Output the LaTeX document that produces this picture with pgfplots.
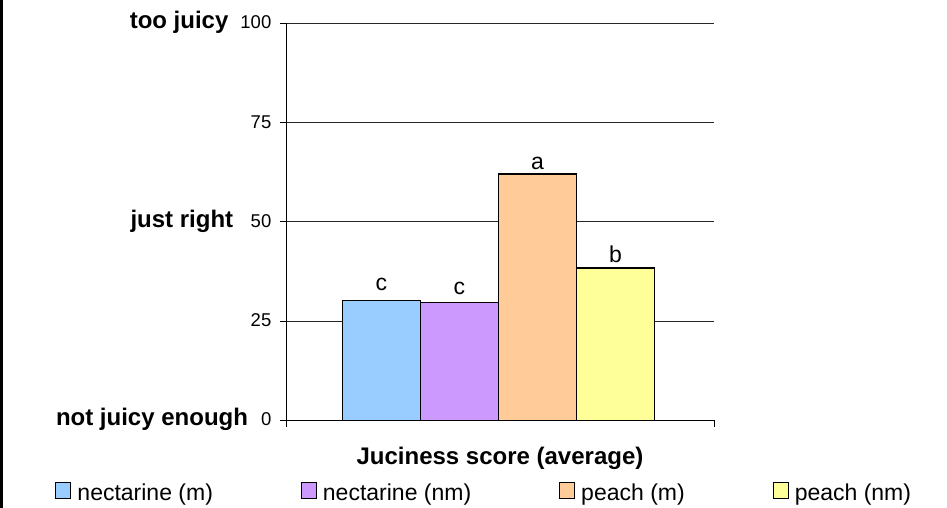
\documentclass[border=0pt]{standalone}
\usepackage{pgfplots}
\pgfplotsset{compat=1.18}
\usepackage{fontspec}
\setmainfont{Liberation Sans}
\definecolor{cblue}{HTML}{99CCFF}
\definecolor{cpurple}{HTML}{CC99FF}
\definecolor{corange}{HTML}{FFCC99}
\definecolor{cyellow}{HTML}{FFFF99}
\newcommand{\lab}[1]{{\fontsize{24}{28}\selectfont\bfseries #1}}
\newcommand{\num}[1]{{\fontsize{18.5}{22}\selectfont #1}}
\pgfplotsset{
  sq legend/.style={legend image code/.code={\draw[##1, line width=1pt] (0pt,-6pt) rectangle (15pt,10pt);}},
  barstyle/.style={ybar, bar width=1, bar shift=0pt, draw=black, line width=1.2pt,
    nodes near coords, point meta=explicit symbolic, sq legend},
  lbl/.style={every node near coord/.append style={anchor=base, inner sep=0pt, yshift=#1, font=\fontsize{23}{27}\selectfont, text=black}}
}
\begin{document}
\begin{tikzpicture}
\useasboundingbox (0,0) rectangle (947pt,508pt);
\draw[line width=2.7pt] (1.35pt,0) -- (1.35pt,508pt);
\begin{axis}[
  at={(286pt,87.5pt)}, anchor=south west,
  width=428pt, height=397pt, scale only axis,
  clip=false,
  xmin=-2.724, xmax=2.763, ymin=0, ymax=100,
  axis x line*=bottom, axis y line*=left,
  axis line style={black, line width=1pt},
  ytick={0,25,50,75,100},
  yticklabels={{\lab{not juicy enough}\hspace{13pt}\num{0}}, \num{25}, {\lab{just right}\hspace{17.5pt}\num{50}}, \num{75}, {\lab{too juicy}\hspace{12pt}\num{100}}},
  yticklabel style={anchor=base east, inner sep=0pt, yshift=-5.5pt, xshift=-8pt},
  xtick={-2.724,2.763}, xticklabels={},
  tick align=outside, major tick length=6.5pt,
  tick style={black, line width=1pt},
  ymajorgrids, grid style={black!85, line width=1pt},
  xlabel={\lab{Juciness score (average)}},
  xlabel style={at={(axis description cs:0.5,-0.1096)}, anchor=base, inner sep=0pt},
  legend columns=4,
  legend style={at={(axis description cs:-0.5386,-0.1554)}, anchor=north west,
    draw=none, fill=none, inner sep=0pt, outer sep=0pt,
    font=\fontsize{23}{27}\selectfont, nodes={inner sep=0pt},
    /tikz/every odd column/.append style={column sep=6pt},
    /tikz/every even column/.append style={column sep=88pt}},
]
\addplot[barstyle, fill=cblue, lbl=10pt] coordinates {(-1.5,30.3)[c]};
\addlegendentry{nectarine (m)}
\addplot[barstyle, fill=cpurple, lbl=8pt] coordinates {(-0.5,29.8)[c]};
\addlegendentry{nectarine (nm)}
\addplot[barstyle, fill=corange, lbl=4.5pt] coordinates {(0.5,62.1)[a]};
\addlegendentry{peach (m)}
\addplot[barstyle, fill=cyellow, lbl=5.5pt] coordinates {(1.5,38.4)[b]};
\addlegendentry{peach (nm)}
\end{axis}
\end{tikzpicture}
\end{document}
